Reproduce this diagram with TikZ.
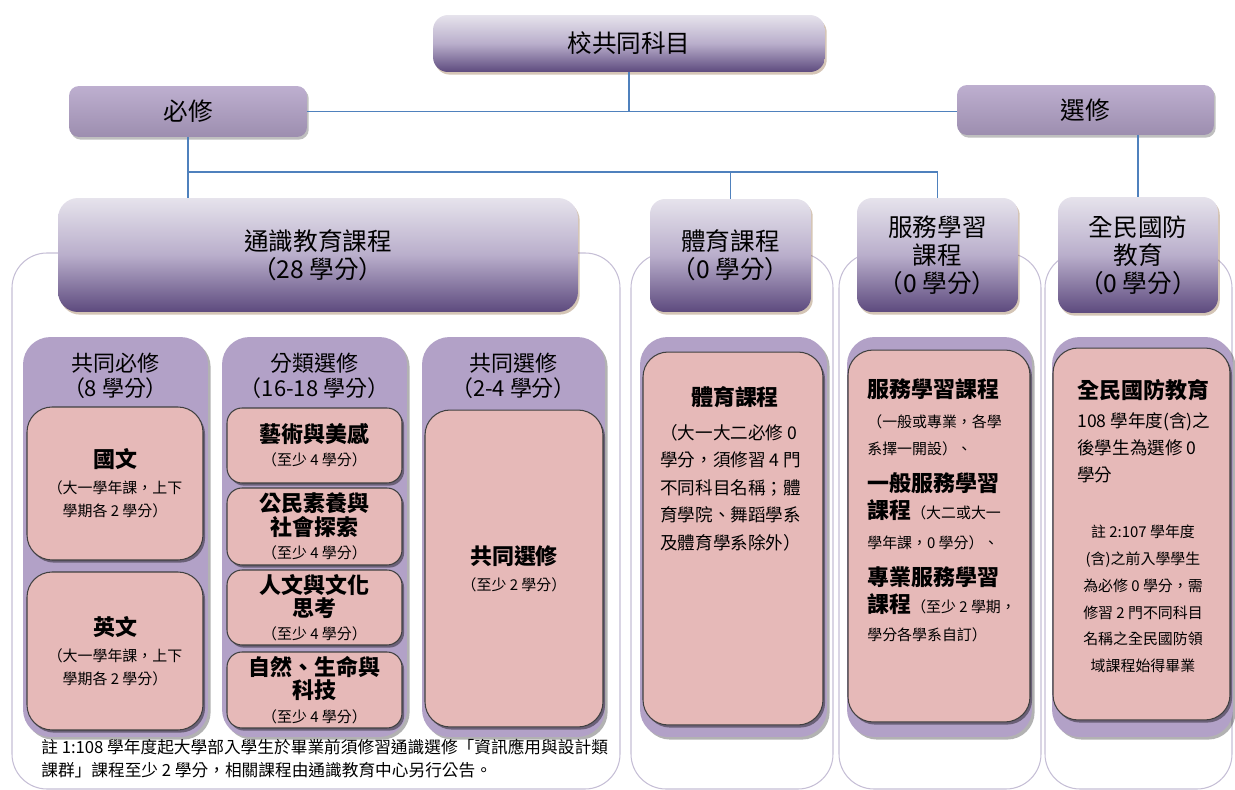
\documentclass[tikz,border=0pt]{standalone}
\usepackage{fontspec}
\setmainfont{Noto Sans CJK TC}
\usetikzlibrary{shadows}

\definecolor{hdlight}{HTML}{E6E3EC}
\definecolor{hdmid}{HTML}{B9AECB}
\definecolor{hddark}{HTML}{5D4A7E}
\definecolor{lav}{HTML}{B2A1C7}
\definecolor{pinkcard}{HTML}{E6B9B8}
\definecolor{framegray}{HTML}{C6BFD6}
\definecolor{linkblue}{HTML}{4F81BD}

\newcommand\cardtitle{\fontsize{12.5}{13.2}\selectfont\bfseries}

\begin{document}
\begin{tikzpicture}[x = 0.02cm, y = -0.02cm, every node/.style = {inner sep = 0pt},
	head/.style = {rounded corners = 0.3cm, top color = hdlight, bottom color = hddark, middle color = hdmid, align = center, font = \fontsize{14}{16}\selectfont, drop shadow = {shadow xshift = 1pt, shadow yshift = -1.5pt, fill = brown!70!black, opacity = 0.35}},
	branch/.style = {rounded corners = 0.2cm, top color = lav!85!white, bottom color = lav!88!black, font = \fontsize{14}{16}\selectfont, drop shadow = {shadow xshift = 1pt, shadow yshift = -1.5pt, fill = black, opacity = 0.25}},
	panel/.style = {rounded corners = 0.55cm, fill = lav, minimum height = 8cm, drop shadow = {shadow xshift = 1.5pt, shadow yshift = -1.5pt, fill = black, opacity = 0.3}},
	ptitle/.style = {align = center, font = \fontsize{12.5}{14.2}\selectfont},
	card/.style = {rounded corners = 0.5cm, fill = pinkcard, draw = black!75, line width = 0.6pt, align = center, font = \fontsize{8.5}{13.2}\selectfont, drop shadow = {shadow xshift = 1.2pt, shadow yshift = -1.5pt, fill = black, opacity = 0.4}},
	frame/.style = {draw = framegray, line width = 0.6pt, rounded corners = 0.7cm, fill = white},
	link/.style = {draw = linkblue, line width = 0.7pt}]

	\useasboundingbox (0, 0) rectangle (1235, 790);

	\draw [frame] (12, 253) rectangle (620, 789);
	\draw [frame] (631, 253) rectangle (833, 789);
	\draw [frame] (839, 253) rectangle (1041, 789);
	\draw [frame] (1045, 253) rectangle (1232, 789);

	\node [head, minimum width = 7.84cm, minimum height = 1.14cm] (school) at (629, 43.5) {校共同科目};
	\node [branch, minimum width = 4.76cm, minimum height = 1.02cm] (req) at (188, 111.5) {必修};
	\node [branch, minimum width = 5.14cm, minimum height = 1cm] (elec) at (1085.5, 110) {選修};

	\node [head, rounded corners = 0.4cm, minimum width = 10.4cm, minimum height = 2.28cm] (gen) at (318, 255) {通識教育課程\\（28 學分）};
	\node [head, minimum width = 3.22cm, minimum height = 2.26cm] (pe) at (730.5, 255.5) {體育課程\\（0 學分）};
	\node [head, minimum width = 3.22cm, minimum height = 2.28cm] (svc) at (937.5, 255) {服務學習\\課程\\（0 學分）};
	\node [head, minimum width = 3.2cm, minimum height = 2.32cm] (def) at (1138, 255) {全民國防\\教育\\（0 學分）};

	\coordinate (bus) at (0, 172);
	\draw [link] (school.south) -- (school.south |- req.east);
	\draw [link] (req.east) -- (req.east -| elec.west);
	\draw [link] (req.south) -- (req.south |- gen.north);
	\draw [link] (req.south |- bus) -- (svc.north |- bus) -- (svc.north);
	\draw [link] (pe.north |- bus) -- (pe.north);
	\draw [link] (def.north |- elec.south) -- (def.north);

	\node [panel, minimum width = 3.7cm] (core) at (115.5, 537) {};
	\node [panel, minimum width = 3.7cm] (dist) at (314.5, 537) {};
	\node [panel, minimum width = 3.66cm] (free) at (513.5, 537) {};
	\node [panel, minimum width = 3.74cm] (pepanel) at (733.5, 537) {};
	\node [panel, minimum width = 3.7cm] (svcpanel) at (939.5, 537) {};
	\node [panel, minimum width = 3.62cm] (defpanel) at (1142.5, 537) {};

	\node [ptitle] (coretitle) at (115.5, 375.5) {共同必修\\（8 學分）};
	\node [ptitle] (disttitle) at (314.5, 375.5) {分類選修\\（16-18 學分）};
	\node [ptitle] (freetitle) at (513.5, 375.5) {共同選修\\（2-4 學分）};

	\node [card, minimum width = 3.52cm, minimum height = 3.06cm] (chinese) at (115, 483.5) {{\cardtitle 國文}\\[1.5pt]（大一學年課，上下\\學期各 2 學分）};
	\node [card, minimum width = 3.52cm, minimum height = 3.16cm] (english) at (115, 651) {{\cardtitle 英文}\\[1.5pt]（大一學年課，上下\\學期各 2 學分）};

	\node [card, rounded corners = 0.3cm, minimum width = 3.5cm, minimum height = 1.5cm] (arts) at (314.5, 445.5) {{\cardtitle 藝術與美感}\\（至少 4 學分）};
	\node [card, rounded corners = 0.3cm, minimum width = 3.5cm, minimum height = 1.54cm] (civic) at (314.5, 526.5) {{\cardtitle 公民素養與}\\{\cardtitle 社會探索}\\（至少 4 學分）};
	\node [card, rounded corners = 0.3cm, minimum width = 3.5cm, minimum height = 1.5cm] (human) at (314.5, 607.5) {{\cardtitle 人文與文化}\\{\cardtitle 思考}\\（至少 4 學分）};
	\node [card, rounded corners = 0.3cm, minimum width = 3.5cm, minimum height = 1.52cm] (nature) at (314.5, 690) {{\cardtitle 自然、生命與}\\{\cardtitle 科技}\\（至少 4 學分）};

	\node [card, minimum width = 3.56cm, minimum height = 6.34cm] (freecard) at (514, 568.5) {{\cardtitle 共同選修}\\[1.5pt]（至少 2 學分）};

	\node [card, minimum width = 3.6cm, minimum height = 7.46cm] (pecard) at (733, 538.5) {};
	\node [font = \cardtitle] (petitle) at (735, 397) {體育課程};
	\node [anchor = north west, align = left, font = \fontsize{10}{15.6}\selectfont] (pebody) at (660, 424) {（大一大二必修 0\\學分，須修習 4 門\\不同科目名稱；體\\育學院、舞蹈學系\\及體育學系除外）};

	\node [card, minimum width = 3.64cm, minimum height = 7.44cm] (svccard) at (939, 536) {};
	\node [anchor = north west, align = left, font = \fontsize{8.5}{15.5}\selectfont] (svctext) at (867, 378.5) {{\cardtitle 服務學習課程}\\[1.5pt]（一般或專業，各學\\系擇一開設）、\\[5.4pt]{\cardtitle 一般服務學習}\\{\cardtitle 課程}（大二或大一\\[1.5pt]學年課，0 學分）、\\[5.5pt]{\cardtitle 專業服務學習}\\{\cardtitle 課程}（至少 2 學期，\\學分各學系自訂）};

	\node [card, minimum width = 3.54cm, minimum height = 7.44cm] (defcard) at (1141.5, 534) {};
	\node [anchor = north west, align = left, font = \fontsize{10}{15.3}\selectfont] (defhead) at (1077, 379) {{\cardtitle 全民國防教育}\\[1.5pt]108 學年度(含)之\\後學生為選修 0\\學分};
	\node [anchor = north, align = center, font = \fontsize{8.5}{15.3}\selectfont] (defnote) at (1143, 524.5) {註 2:107 學年度\\(含)之前入學學生\\為必修 0 學分，需\\修習 2 門不同科目\\名稱之全民國防領\\域課程始得畢業};

	\node [anchor = north west, align = left, font = \fontsize{9.5}{13}\selectfont] (note) at (41, 738.5) {註 1:108 學年度起大學部入學生於畢業前須修習通識選修「資訊應用與設計類\\課群」課程至少 2 學分，相關課程由通識教育中心另行公告。};

\end{tikzpicture}
\end{document}
